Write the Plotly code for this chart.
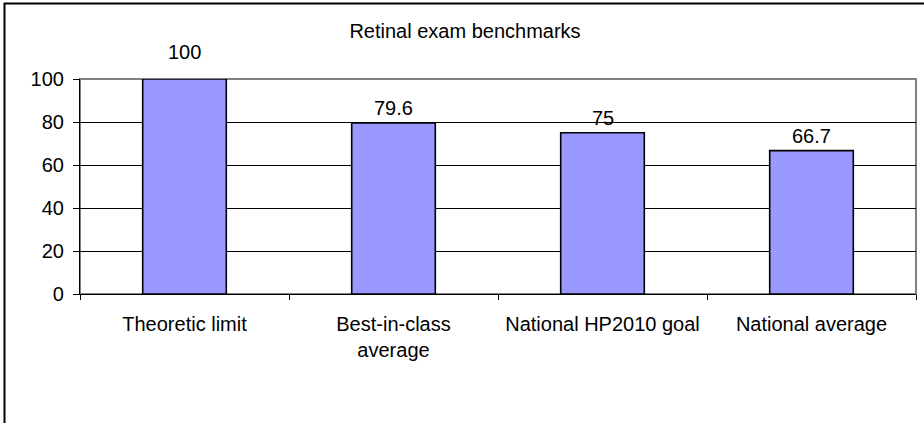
import plotly.graph_objects as go

# ---- data ----
categories = ["Theoretic limit", "Best-in-class<br>average", "National HP2010 goal", "National average"]
values = [100, 79.6, 75, 66.7]
value_labels = ["100", "79.6", "75", "66.7"]
y_ticks = [0, 20, 40, 60, 80, 100]
title_text = "Retinal exam benchmarks"

# ---- layout constants (pixels) ----
W, H = 924, 423
PL, PR, PT, PB = 80, 916, 79, 294  # plot area edges
FONT = "Arial, 'Liberation Sans', sans-serif"
FS = 20

def px_x(px):
    return (px - PL) / (PR - PL)

def px_y(py):
    return (PB - py) / (PB - PT)

fig = go.Figure()
fig.add_trace(go.Bar(
    x=categories, y=values, width=0.4,
    marker=dict(color="#9999FF", line=dict(color="black", width=1.6)),
    hoverinfo="x+y",
))

ymax = y_ticks[-1]
for c, v, t in zip(categories, values, value_labels):
    fig.add_annotation(x=c, y=v, text=t, showarrow=False, yanchor="bottom",
                       yshift=(14 if v >= ymax else 2),
                       font=dict(family=FONT, size=FS, color="black"))

fig.update_layout(
    width=W, height=H,
    margin=dict(l=PL, r=W - PR, t=PT, b=H - PB, pad=0),
    paper_bgcolor="white", plot_bgcolor="white",
    showlegend=False,
    font=dict(family=FONT, size=FS, color="black"),
    title=dict(text=title_text, x=px_x(465), xref="paper", xanchor="center",
               y=1 - 31 / H, yref="container", yanchor="middle",
               font=dict(family=FONT, size=FS, color="black")),
    xaxis=dict(type="category", showline=True, linecolor="black", linewidth=1.2,
               ticks="outside", tickson="boundaries", ticklen=5, tickcolor="black",
               tickwidth=1, showgrid=False, ticklabelstandoff=12,
               tickfont=dict(family=FONT, size=FS, color="black")),
    yaxis=dict(range=[0, ymax], tickvals=y_ticks, showline=True, linecolor="black",
               linewidth=1.2, ticks="outside", ticklen=6, tickcolor="black",
               showgrid=True, gridcolor="black", gridwidth=1, zeroline=False,
               ticklabelstandoff=5,
               tickfont=dict(family=FONT, size=FS, color="black")),
    shapes=[
        # gray plot-area border (top & right)
        dict(type="rect", xref="paper", yref="paper", x0=0, x1=1, y0=0, y1=1,
             line=dict(color="#808080", width=2), layer="between"),
        # outer chart frame (left & top edges visible)
        dict(type="path", xref="paper", yref="paper",
             path=f"M {px_x(4.5)} {px_y(H + 5)} L {px_x(4.5)} {px_y(3.5)} L {px_x(W + 5)} {px_y(3.5)}",
             line=dict(color="black", width=2), layer="above"),
    ],
)

fig.write_html("out.html", config={"displayModeBar": False},
               post_script="document.body.style.margin='0';document.body.style.padding='0';")
